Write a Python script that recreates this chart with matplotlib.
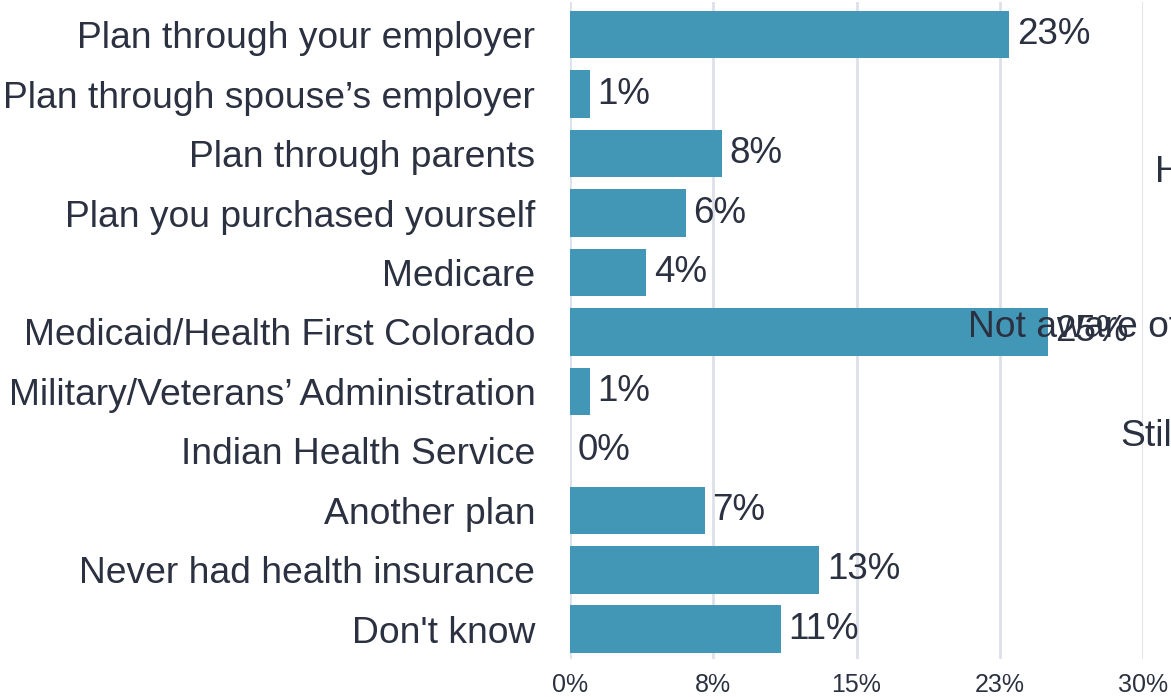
import matplotlib
matplotlib.use("Agg")
import matplotlib.pyplot as plt

categories = [
    "Plan through your employer",
    "Plan through spouse\u2019s employer",
    "Plan through parents",
    "Plan you purchased yourself",
    "Medicare",
    "Medicaid/Health First Colorado",
    "Military/Veterans\u2019 Administration",
    "Indian Health Service",
    "Another plan",
    "Never had health insurance",
    "Don't know",
]
values = [23, 1, 8, 6, 4, 25, 1, 0, 7, 13, 11]
bar_lengths = [23.0, 1.05, 7.95, 6.05, 4.0, 25.0, 1.05, 0.0, 7.05, 13.05, 11.05]
tick_values = [0, 7.5, 15, 22.5, 30]
tick_labels = ["0%", "8%", "15%", "23%", "30%"]

# texte d'un autre graphique qui déborde à droite
stray_texts = [("H", 1155, 172), ("Not aware of", 968, 327), ("Stil", 1120, 437)]

BAR = "#4397b6"
TXT = "#2b3140"
GRID = "#dde0e8"

plt.rcParams["font.family"] = ["Liberation Sans", "DejaVu Sans"]

W, H = 1171, 697
fig = plt.figure(figsize=(W / 100, H / 100), dpi=100)
ax = fig.add_axes([570 / W, 1 - 659 / H, (1143 - 570) / W, (659 - 2) / H])

y = list(range(len(categories)))
ax.barh(y, bar_lengths, height=0.8, color=BAR, zorder=2)

for yi, L, v in zip(y, bar_lengths, values):
    ax.annotate(f"{v}%", (L, yi), xytext=(5.5, 0), textcoords="offset points",
                va="center", ha="left", fontsize=26.5, color=TXT, zorder=3)

ax.set_xlim(0, 30)
ax.set_ylim(10.5, -0.55)
ax.set_xticks(tick_values)
ax.set_xticklabels(tick_labels, fontsize=18, color=TXT)
ax.set_yticks(y)
ax.set_yticklabels(categories, fontsize=26.8, color=TXT)
ax.tick_params(axis="y", length=0, pad=25)
ax.tick_params(axis="x", length=0, pad=10)
ax.grid(axis="x", color=GRID, linewidth=2, zorder=0)
for s in ax.spines.values():
    s.set_visible(False)

for t, px, py in stray_texts:
    fig.text(px / W, 1 - py / H, t, fontsize=26.8, color=TXT, va="center", ha="left", zorder=5)

fig.savefig("out.png", dpi=100)
